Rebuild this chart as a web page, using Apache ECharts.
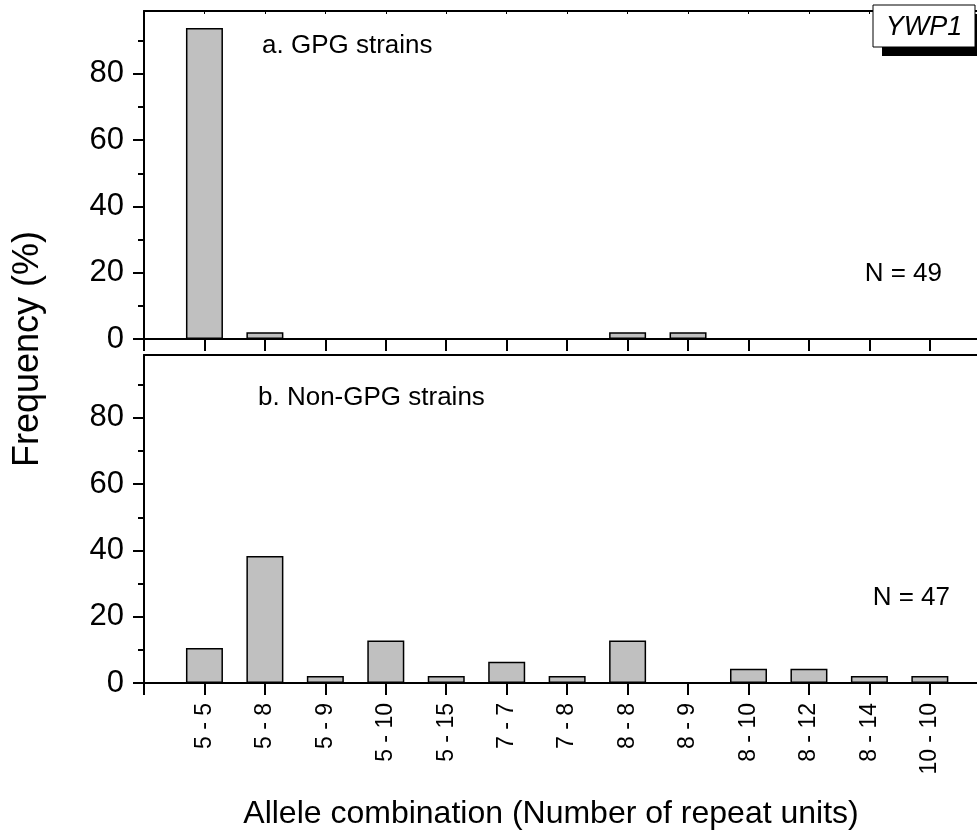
<!DOCTYPE html>
<html>
<head>
<meta charset="utf-8">
<script src="https://cdn.jsdelivr.net/npm/echarts@6/dist/echarts.min.js"></script>
<style>
  html, body { margin: 0; padding: 0; background: #fff; }
  #chart { width: 977px; height: 834px; }
</style>
</head>
<body>
<div id="chart"></div>
<script>
// Allele combinations (number of repeat units) on the shared x axis
const categories = ['5 - 5', '5 - 8', '5 - 9', '5 - 10', '5 - 15', '7 - 7', '7 - 8',
                    '8 - 8', '8 - 9', '8 - 10', '8 - 12', '8 - 14', '10 - 10'];
// Frequency (%) per combination
const gpgValues    = [93.9, 2.0, 0, 0, 0, 0, 0, 2.0, 2.0, 0, 0, 0, 0];                 // N = 49
const nonGpgValues = [10.6, 38.3, 2.1, 12.8, 2.1, 6.4, 2.1, 12.8, 0, 4.3, 4.3, 2.1, 2.1]; // N = 47
// y-axis ticks
const majorTicks = [0, 20, 40, 60, 80];
const minorTicks = [10, 30, 50, 70, 90];
const yMax = 99;
// x axis: combination k sits at position k; the frame starts at 0
const xMax = 13.78;
const xTickPositions = [0].concat(categories.map((c, i) => i + 1));
const xLabelPositions = categories.map((c, i) => i + 1);

const FONT = 'Liberation Sans, Arial, sans-serif';
const toPoints = vals => vals.map((v, i) => [i + 1, v]);

const line = { color: '#000', width: 2 };

function xAxisBottom(grid, withLabels) {
  return {
    gridIndex: grid, type: 'value', min: 0, max: xMax, position: 'bottom',
    axisLine: { onZero: false, lineStyle: line },
    axisTick: { show: true, customValues: xTickPositions, inside: false, length: 12, lineStyle: line },
    axisLabel: withLabels
      ? { show: true, customValues: xLabelPositions, formatter: v => categories[Math.round(v) - 1] || '',
          rotate: 90, margin: 20, color: '#000', fontSize: 23, fontFamily: FONT }
      : { show: false },
    splitLine: { show: false }
  };
}
function xAxisTop(grid, ticks) {
  return {
    gridIndex: grid, type: 'value', min: 0, max: xMax, position: 'top',
    axisLine: { onZero: false, lineStyle: line },
    axisTick: { show: ticks, customValues: xLabelPositions, inside: true, length: 3, lineStyle: { color: '#000', width: 1 } },
    axisLabel: { show: false },
    splitLine: { show: false }
  };
}
function yMajor(grid) {
  return {
    gridIndex: grid, type: 'value', min: 0, max: yMax, position: 'left',
    axisLine: { show: true, onZero: false, lineStyle: line },
    axisTick: { show: true, customValues: majorTicks, length: 11, lineStyle: line },
    axisLabel: { show: true, customValues: majorTicks, margin: 20, color: '#000', fontSize: 31, fontFamily: FONT },
    splitLine: { show: false }
  };
}
function yMinor(grid) {
  return {
    gridIndex: grid, type: 'value', min: 0, max: yMax, position: 'left',
    axisLine: { show: false },
    axisTick: { show: true, customValues: minorTicks, length: 6, lineStyle: line },
    axisLabel: { show: false },
    splitLine: { show: false }
  };
}

const barStyle = { color: '#c0c0c0', borderColor: '#000', borderWidth: 1.5 };

const chart = echarts.init(document.getElementById('chart'), null, { renderer: 'canvas' });
chart.setOption({
  backgroundColor: '#fff',
  animation: false,
  grid: [
    { left: 144, top: 11, height: 328, right: 0 },
    { left: 144, top: 355, height: 328, right: 0 }
  ],
  xAxis: [xAxisBottom(0, false), xAxisTop(0, true), xAxisBottom(1, true), xAxisTop(1, false)],
  yAxis: [yMajor(0), yMinor(0), yMajor(1), yMinor(1)],
  series: [
    { type: 'bar', name: 'GPG strains', xAxisIndex: 0, yAxisIndex: 0, data: toPoints(gpgValues),
      barWidth: 37, itemStyle: barStyle, z: 1 },
    { type: 'bar', name: 'Non-GPG strains', xAxisIndex: 2, yAxisIndex: 2, data: toPoints(nonGpgValues),
      barWidth: 37, itemStyle: barStyle, z: 1 }
  ],
  graphic: [
    { type: 'text', x: 262, y: 46, style: { text: 'a. GPG strains', font: '26px ' + FONT, fill: '#000', textVerticalAlign: 'middle' } },
    { type: 'text', x: 258, y: 398, style: { text: 'b. Non-GPG strains', font: '26px ' + FONT, fill: '#000', textVerticalAlign: 'middle' } },
    { type: 'text', x: 942, y: 274, style: { text: 'N = 49', font: '26px ' + FONT, fill: '#000', textAlign: 'right', textVerticalAlign: 'middle' } },
    { type: 'text', x: 950, y: 598, style: { text: 'N = 47', font: '26px ' + FONT, fill: '#000', textAlign: 'right', textVerticalAlign: 'middle' } },
    // gene label box with drop shadow
    { type: 'rect', z: 100, shape: { x: 882, y: 14, width: 102, height: 42 }, style: { fill: '#000' } },
    { type: 'rect', z: 101, shape: { x: 873, y: 5, width: 102, height: 42 }, style: { fill: '#fff', stroke: '#000', lineWidth: 1 } },
    { type: 'text', z: 102, x: 924, y: 27, style: { text: 'YWP1', font: 'italic 27px ' + FONT, fill: '#000', textAlign: 'center', textVerticalAlign: 'middle' } },
    // axis titles
    { type: 'text', x: 28, y: 349, rotation: Math.PI / 2, style: { text: 'Frequency (%)', font: '36px ' + FONT, fill: '#000', textAlign: 'center', textVerticalAlign: 'middle' } },
    { type: 'text', x: 551, y: 814, style: { text: 'Allele combination (Number of repeat units)', font: '32px ' + FONT, fill: '#000', textAlign: 'center', textVerticalAlign: 'middle' } }
  ]
});
</script>
</body>
</html>
